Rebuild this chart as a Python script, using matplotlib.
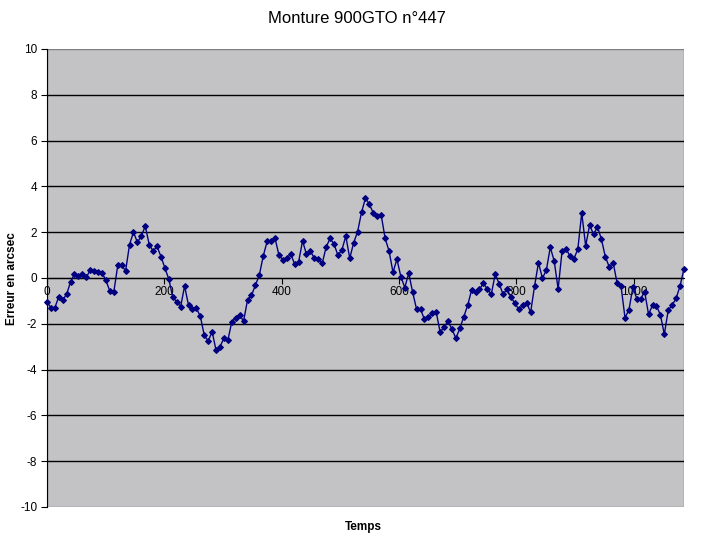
import numpy as np
import matplotlib.pyplot as plt
from matplotlib.patches import Rectangle

plt.rcParams['font.family'] = ['Liberation Sans', 'DejaVu Sans']
plt.rcParams['axes.unicode_minus'] = False

# erreur de suivi (arcsec), echantillons reguliers
erreur = [-1.03, -1.30, -1.30, -0.82, -0.96, -0.71, -0.17, 0.17, 0.07, 0.17,
          0.03, 0.34, 0.31, 0.26, 0.22, -0.10, -0.58, -0.61, 0.55, 0.55,
          0.31, 1.46, 2.00, 1.56, 1.83, 2.27, 1.46, 1.17, 1.38, 0.93,
          0.44, -0.06, -0.84, -1.03, -1.25, -0.35, -1.19, -1.37, -1.32, -1.67,
          -2.50, -2.75, -2.34, -3.16, -3.00, -2.63, -2.72, -1.92, -1.73, -1.63,
          -1.88, -0.97, -0.76, -0.32, 0.12, 0.96, 1.60, 1.63, 1.73, 1.00,
          0.79, 0.86, 1.05, 0.60, 0.70, 1.62, 1.03, 1.18, 0.86, 0.83,
          0.64, 1.35, 1.73, 1.48, 0.99, 1.22, 1.83, 0.86, 1.54, 2.02,
          2.87, 3.48, 3.22, 2.83, 2.71, 2.75, 1.73, 1.18, 0.25, 0.82,
          0.06, -0.42, 0.21, -0.62, -1.37, -1.37, -1.80, -1.72, -1.52, -1.50,
          -2.37, -2.13, -1.89, -2.24, -2.63, -2.20, -1.69, -1.19, -0.52, -0.62,
          -0.49, -0.23, -0.49, -0.71, 0.17, -0.25, -0.71, -0.49, -0.84, -1.10,
          -1.37, -1.18, -1.08, -1.50, -0.36, 0.67, -0.01, 0.34, 1.34, 0.74,
          -0.48, 1.18, 1.28, 0.96, 0.84, 1.25, 2.84, 1.40, 2.31, 1.91,
          2.23, 1.70, 0.93, 0.48, 0.67, -0.23, -0.36, -1.73, -1.40, -0.41,
          -0.90, -0.90, -0.61, -1.59, -1.19, -1.22, -1.60, -2.46, -1.41, -1.18,
          -0.89, -0.35, 0.39]
dt = 6.7  # pas de temps
temps = np.arange(len(erreur)) * dt

yticks = np.arange(-10, 11, 2)
xticks = [0, 200, 400, 600, 800, 1000]

fig = plt.figure(figsize=(7.01, 5.39), dpi=100)
fig.patch.set_facecolor('white')
ax = fig.add_axes([0.067, 0.0594, 0.9087, 0.8497])
ax.set_facecolor('#c3c3c6')

for yv in yticks[1:-1]:
    ax.axhline(yv, color='black', lw=1, zorder=1)

ax.plot(temps, erreur, color='#000080', lw=1, marker='D', ms=3.0, mew=0.8,
        zorder=3, clip_on=False)

ax.set_xlim(0, temps[-1])
ax.set_ylim(-10, 10)
ax.set_yticks(yticks)
ax.set_xticks(xticks)

ax.spines['bottom'].set_position(('data', 0))
ax.spines['bottom'].set_color('black')
ax.spines['left'].set_color('black')
ax.spines['top'].set_visible(False)
ax.spines['right'].set_visible(False)
ax.add_patch(Rectangle((0, 0), 1, 1, transform=ax.transAxes, fill=False,
                       edgecolor='#808080', lw=1, zorder=0.5))

ax.tick_params(axis='y', direction='out', length=4, labelsize=8.5, pad=3)
ax.tick_params(axis='x', direction='out', length=4, labelsize=8.5, pad=2)

fig.text(0.509, 0.966, 'Monture 900GTO n°447', ha='center', va='center',
         fontsize=12)
fig.text(0.519, 0.022, 'Temps', ha='center', va='center', fontsize=8.5,
         fontweight='bold')
fig.text(0.017, 0.484, 'Erreur en arcsec', ha='center', va='center',
         fontsize=8.5, fontweight='bold', rotation=90)

fig.savefig('out.png', dpi=100)
